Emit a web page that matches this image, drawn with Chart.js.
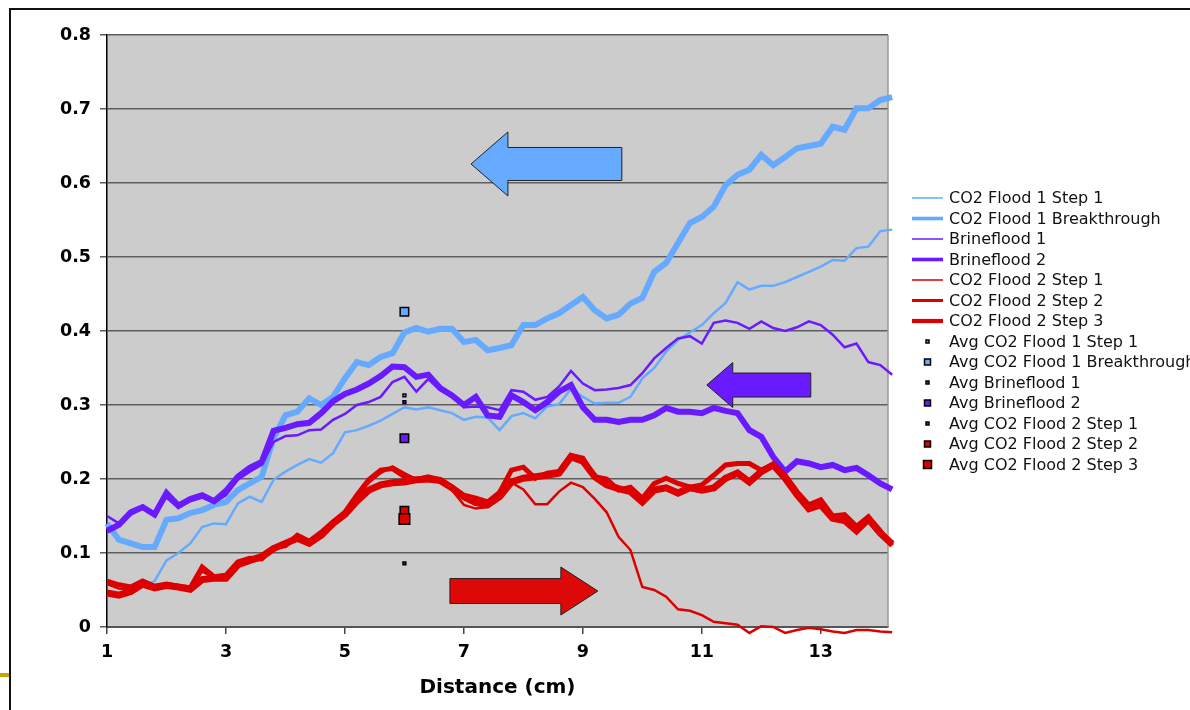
<!DOCTYPE html>
<html>
<head>
<meta charset="utf-8">
<script src="https://cdn.jsdelivr.net/npm/chart.js@4.4.1/dist/chart.umd.min.js"></script>
<style>
  html, body { margin: 0; padding: 0; background: #fff; }
  #wrap { width: 1190px; height: 710px; }
</style>
</head>
<body>
<div id="wrap"><canvas id="sat" width="1190" height="710"></canvas></div>
<script>
// distance along the core, cm
let distance = [1.0,1.2,1.4,1.6,1.8,2.0,2.2,2.4,2.6,2.8,
                3.0,3.2,3.4,3.6,3.8,4.0,4.2,4.4,4.6,4.8,
                5.0,5.2,5.4,5.6,5.8,6.0,6.2,6.4,6.6,6.8,
                7.0,7.2,7.4,7.6,7.8,8.0,8.2,8.4,8.6,8.8,
                9.0,9.2,9.4,9.6,9.8,10.0,10.2,10.4,10.6,10.8,
                11.0,11.2,11.4,11.6,11.8,12.0,12.2,12.4,12.6,12.8,
                13.0,13.2,13.4,13.6,13.8,14.0,14.2];

let co2Flood1Step1 = [0.042,0.045,0.050,0.055,0.062,0.090,0.100,0.113,0.135,0.140,
                      0.139,0.167,0.176,0.169,0.199,0.210,0.219,0.227,0.222,0.235,
                      0.263,0.266,0.272,0.279,0.288,0.297,0.294,0.297,0.293,0.289,
                      0.280,0.284,0.283,0.266,0.285,0.289,0.282,0.298,0.301,0.322,
                      0.311,0.302,0.303,0.303,0.311,0.336,0.350,0.372,0.388,0.398,
                      0.408,0.424,0.438,0.466,0.456,0.461,0.461,0.466,0.473,0.480,
                      0.487,0.496,0.495,0.512,0.514,0.535,0.537];

let co2Flood1Breakthrough = [0.140,0.118,0.113,0.108,0.108,0.145,0.147,0.154,0.158,0.165,
                             0.169,0.185,0.194,0.203,0.255,0.286,0.291,0.309,0.300,0.311,
                             0.336,0.358,0.354,0.365,0.370,0.398,0.404,0.399,0.403,0.403,
                             0.385,0.388,0.374,0.377,0.381,0.408,0.408,0.417,0.424,0.435,
                             0.446,0.428,0.417,0.422,0.437,0.445,0.480,0.492,0.519,0.546,
                             0.554,0.568,0.597,0.611,0.618,0.638,0.624,0.635,0.647,0.650,
                             0.653,0.676,0.672,0.701,0.701,0.712,0.716];

let brineflood1 = [0.150,0.140,0.152,0.160,0.155,0.175,0.161,0.170,0.175,0.168,
                   0.178,0.199,0.210,0.219,0.250,0.258,0.259,0.266,0.267,0.280,
                   0.288,0.300,0.304,0.311,0.331,0.338,0.318,0.335,0.320,0.311,
                   0.297,0.298,0.297,0.293,0.320,0.318,0.307,0.311,0.325,0.346,
                   0.329,0.320,0.321,0.323,0.327,0.343,0.363,0.377,0.390,0.393,
                   0.383,0.411,0.414,0.411,0.403,0.413,0.404,0.400,0.405,0.413,
                   0.408,0.395,0.378,0.383,0.358,0.354,0.341];

let brineflood2 = [0.130,0.138,0.155,0.162,0.152,0.181,0.164,0.173,0.178,0.170,
                   0.184,0.203,0.215,0.223,0.265,0.269,0.274,0.276,0.289,0.305,
                   0.315,0.321,0.329,0.339,0.352,0.351,0.338,0.341,0.323,0.313,
                   0.300,0.311,0.286,0.284,0.313,0.304,0.293,0.304,0.318,0.327,
                   0.297,0.280,0.280,0.277,0.280,0.280,0.286,0.296,0.291,0.291,
                   0.289,0.296,0.292,0.289,0.266,0.257,0.230,0.210,0.224,0.221,
                   0.216,0.219,0.212,0.215,0.205,0.194,0.186];

let co2Flood2Step1 = [0.058,0.052,0.050,0.060,0.054,0.056,0.054,0.052,0.075,0.066,
                      0.068,0.085,0.090,0.092,0.105,0.110,0.122,0.115,0.126,0.140,
                      0.153,0.175,0.195,0.208,0.217,0.208,0.200,0.202,0.196,0.185,
                      0.165,0.160,0.162,0.185,0.195,0.186,0.166,0.166,0.183,0.195,
                      0.189,0.173,0.155,0.122,0.104,0.054,0.050,0.041,0.024,0.022,
                      0.016,0.007,0.005,0.003,-0.008,0.001,0.000,-0.008,-0.004,-0.001,
                      -0.003,-0.006,-0.008,-0.004,-0.004,-0.006,-0.007];

let co2Flood2Step2 = [0.062,0.057,0.054,0.062,0.055,0.058,0.055,0.053,0.081,0.068,
                      0.070,0.088,0.093,0.092,0.107,0.110,0.124,0.116,0.128,0.142,
                      0.155,0.178,0.199,0.212,0.214,0.203,0.199,0.203,0.199,0.189,
                      0.178,0.174,0.169,0.182,0.212,0.216,0.201,0.208,0.210,0.232,
                      0.228,0.203,0.200,0.185,0.189,0.174,0.194,0.201,0.194,0.189,
                      0.192,0.205,0.219,0.221,0.221,0.212,0.219,0.205,0.183,0.165,
                      0.172,0.150,0.152,0.136,0.149,0.130,0.110];

let co2Flood2Step3 = [0.046,0.043,0.048,0.058,0.053,0.056,0.054,0.051,0.064,0.066,
                      0.066,0.084,0.090,0.095,0.106,0.113,0.120,0.113,0.124,0.140,
                      0.152,0.170,0.185,0.192,0.195,0.196,0.199,0.200,0.198,0.188,
                      0.176,0.168,0.165,0.176,0.196,0.201,0.203,0.205,0.208,0.230,
                      0.224,0.203,0.192,0.187,0.183,0.169,0.185,0.188,0.181,0.188,
                      0.185,0.188,0.201,0.208,0.196,0.210,0.219,0.201,0.179,0.160,
                      0.165,0.147,0.144,0.130,0.146,0.127,0.112];

// averages, all plotted at 6 cm
let avgDistance = 6;
let avgLabels = ["Avg CO2 Flood 1 Step 1","Avg CO2 Flood 1 Breakthrough","Avg Brineflood 1",
                 "Avg Brineflood 2","Avg CO2 Flood 2 Step 1","Avg CO2 Flood 2 Step 2","Avg CO2 Flood 2 Step 3"];
let avgValues = [0.313, 0.426, 0.304, 0.255, 0.086, 0.157, 0.146];

let xTicks = [1, 3, 5, 7, 9, 11, 13];
let yTicks = [0, 0.1, 0.2, 0.3, 0.4, 0.5, 0.6, 0.7, 0.8];

const BLUE = "#66aaff";
const PURPLE = "#6a1aff";
const RED = "#dd0000";

function pts(arr){
   return distance.map((x, i) => ({x: x, y: arr[i]}));
}

function lineSet(label, arr, color, width){
   return {
      label: label,
      data: pts(arr),
      showLine: true,
      borderColor: color,
      backgroundColor: color,
      borderWidth: width,
      pointRadius: 0,
      tension: 0,
      fill: false,
      clip: false
   };
}

let avgColors = [BLUE, BLUE, PURPLE, PURPLE, RED, RED, RED];
let avgSizes = [2, 6, 2, 6, 2, 6, 7.5];

let datasets = [
   lineSet("CO2 Flood 1 Step 1", co2Flood1Step1, BLUE, 2.5),
   lineSet("CO2 Flood 1 Breakthrough", co2Flood1Breakthrough, BLUE, 6),
   lineSet("Brineflood 1", brineflood1, PURPLE, 2.5),
   lineSet("Brineflood 2", brineflood2, PURPLE, 6),
   lineSet("CO2 Flood 2 Step 1", co2Flood2Step1, RED, 2.5),
   lineSet("CO2 Flood 2 Step 2", co2Flood2Step2, RED, 5),
   lineSet("CO2 Flood 2 Step 3", co2Flood2Step3, RED, 7)
];

avgLabels.forEach((lab, i) => {
   datasets.push({
      label: lab,
      data: [{x: avgDistance, y: avgValues[i]}],
      showLine: false,
      pointStyle: "rect",
      pointRadius: avgSizes[i],
      backgroundColor: avgColors[i],
      borderColor: "#000",
      borderWidth: 1.5,
      clip: false
   });
});

// later series on top, like the spreadsheet
datasets.forEach((d, i) => d.order = -i);

const background = {
   id: "background",
   beforeDraw(chart){
      const c = chart.ctx, a = chart.chartArea;
      c.save();
      c.fillStyle = "#fff";
      c.fillRect(0, 0, chart.width, chart.height);
      c.fillStyle = "#cccccc";
      c.fillRect(a.left, a.top, a.right - a.left, a.bottom - a.top);
      // slide frame
      c.fillStyle = "#111";
      c.fillRect(9, 8, chart.width - 9, 2);
      c.fillRect(9, 8, 2, chart.height - 8);
      c.fillStyle = "#c9a300";
      c.fillRect(0, 673, 9, 4);
      c.restore();
   },
   beforeDatasetsDraw(chart){
      const c = chart.ctx, a = chart.chartArea;
      c.save();
      c.strokeStyle = "#999";
      c.lineWidth = 1.5;
      c.beginPath();
      c.moveTo(a.right, a.top);
      c.lineTo(a.right, a.bottom);
      c.stroke();
      c.restore();
   }
};

const arrows = {
   id: "arrows",
   afterDatasetsDraw(chart, args, opts){
      const c = chart.ctx, xs = chart.scales.x, ys = chart.scales.y;
      opts.list.forEach(ar => {
         const tip = xs.getPixelForValue(ar.tip);
         const neck = xs.getPixelForValue(ar.neck);
         const tail = xs.getPixelForValue(ar.tail);
         const y = ys.getPixelForValue(ar.y);
         c.save();
         c.beginPath();
         c.moveTo(tip, y);
         c.lineTo(neck, y - ar.head);
         c.lineTo(neck, y - ar.body);
         c.lineTo(tail, y - ar.body);
         c.lineTo(tail, y + ar.body);
         c.lineTo(neck, y + ar.body);
         c.lineTo(neck, y + ar.head);
         c.closePath();
         c.fillStyle = ar.color;
         c.fill();
         c.strokeStyle = "#222";
         c.lineWidth = 1;
         c.stroke();
         c.restore();
      });
   }
};

const sideLegend = {
   id: "sideLegend",
   afterDraw(chart, args, opts){
      const c = chart.ctx;
      c.save();
      c.font = "16px 'DejaVu Sans'";
      c.textBaseline = "middle";
      c.fillStyle = "#111";
      chart.data.datasets.forEach((d, i) => {
         const y = opts.top + i * opts.step;
         if (d.showLine === false) {
            const s = Math.max(3, Math.round(d.pointRadius * 1.05));
            const cx = opts.left + opts.lineLen / 2;
            c.fillStyle = d.backgroundColor;
            c.fillRect(cx - s / 2, y - s / 2, s, s);
            c.strokeStyle = "#000";
            c.lineWidth = 1.5;
            c.strokeRect(cx - s / 2, y - s / 2, s, s);
         } else {
            c.strokeStyle = d.borderColor;
            c.lineWidth = Math.max(1.5, d.borderWidth * 0.6);
            c.beginPath();
            c.moveTo(opts.left, y);
            c.lineTo(opts.left + opts.lineLen, y);
            c.stroke();
         }
         c.fillStyle = "#111";
         c.fillText(d.label, opts.left + opts.lineLen + 6, y + 1);
      });
      c.restore();
   }
};

const tickFont = {family: "'DejaVu Sans'", weight: "bold", size: 17.5};

const ctx = document.getElementById("sat").getContext("2d");
const satChart = new Chart(ctx, {
   type: "scatter",
   data: { datasets: datasets },
   plugins: [background, arrows, sideLegend],
   options: {
      responsive: false,
      animation: false,
      events: [],
      layout: { padding: { left: 0, top: 35, right: 302, bottom: 0 } },
      scales: {
         x: {
            type: "linear",
            min: 1,
            max: 14.13,
            afterBuildTicks: s => { s.ticks = xTicks.map(v => ({value: v})); },
            afterFit: s => { s.height = 83; },
            ticks: { color: "#000", font: tickFont, padding: 8, maxRotation: 0, autoSkip: false,
                     callback: v => String(v) },
            grid: { drawOnChartArea: false, drawTicks: true, tickLength: 7, color: "#444", lineWidth: 1.5 },
            border: { color: "#555", width: 2 },
            title: { display: true, text: "Distance (cm)", color: "#000",
                     font: {family: "'DejaVu Sans'", weight: "bold", size: 20},
                     padding: { top: 0, bottom: 10 } }
         },
         y: {
            type: "linear",
            min: 0,
            max: 0.8,
            afterBuildTicks: s => { s.ticks = yTicks.map(v => ({value: v})); },
            afterFit: s => { s.width = 107; },
            ticks: { color: "#000", font: tickFont, padding: 9,
                     callback: v => v === 0 ? "0" : v.toFixed(1) },
            grid: { color: "#5e5e5e", lineWidth: 1.5, tickLength: 7 },
            border: { color: "#000", width: 1.5 }
         }
      },
      plugins: {
         legend: { display: false },
         tooltip: { enabled: false },
         arrows: { list: [
            { color: BLUE, tip: 7.12, neck: 7.74, tail: 9.655, y: 0.6257, body: 16.5, head: 32 },
            { color: PURPLE, tip: 11.084, neck: 11.52, tail: 12.832, y: 0.327, body: 12, head: 22.5 },
            { color: "#dd0808", tail: 6.765, neck: 8.63, tip: 9.252, y: 0.0486, body: 12.5, head: 24 }
         ] },
         sideLegend: { left: 912, top: 198, step: 20.5, lineLen: 31 }
      }
   }
});
</script>
</body>
</html>
